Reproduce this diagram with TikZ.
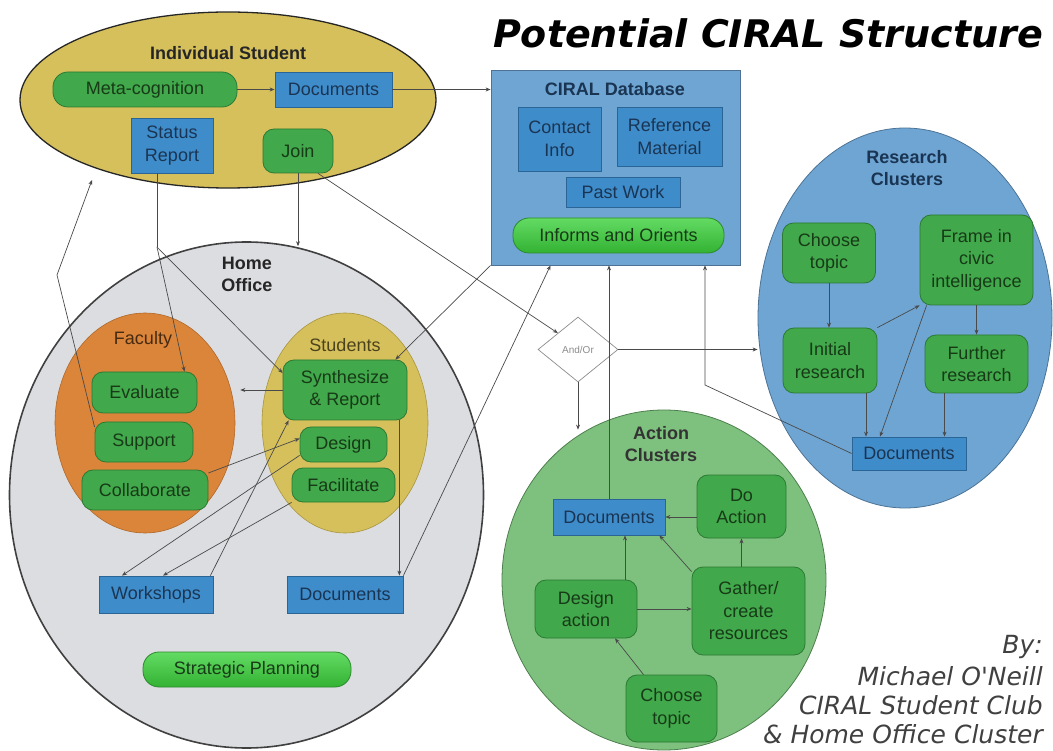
\documentclass[tikz,border=0pt]{standalone}
\usepackage{fontspec}
\setmainfont{Liberation Sans}
\newfontfamily\titlefont{DejaVu Sans}[ItalicFont={DejaVu Sans Oblique},BoldItalicFont={DejaVu Sans Bold Oblique},BoldFont={DejaVu Sans Bold}]
\usetikzlibrary{shapes.geometric,arrows.meta,calc}
\definecolor{gfill}{HTML}{41A84B}
\definecolor{gborder}{HTML}{2C7A34}
\definecolor{gtext}{HTML}{173A17}
\definecolor{bfill}{HTML}{3F8CCA}
\definecolor{bborder}{HTML}{2A6596}
\definecolor{btext}{HTML}{1A3553}
\definecolor{ptop}{HTML}{63DB63}
\definecolor{pbot}{HTML}{33B233}
\definecolor{pborder}{HTML}{2C8A2C}
\definecolor{gold}{HTML}{D6C05C}
\definecolor{goldline}{HTML}{A8953E}
\definecolor{homegray}{HTML}{DCDDE1}
\definecolor{orange}{HTML}{DA853A}
\definecolor{orangeline}{HTML}{B0682A}
\definecolor{lblue}{HTML}{6FA5D2}
\definecolor{lblueline}{HTML}{4C7396}
\definecolor{agreen}{HTML}{7EC07E}
\definecolor{agreenline}{HTML}{4E7F4E}
\definecolor{linec}{HTML}{4A4A4A}
\tikzset{
 txtbase/.style={font=\fontsize{18}{22.5}\selectfont, align=center, inner sep=0pt},
 gbox/.style={txtbase, draw=gborder, fill=gfill, text=gtext, rounded corners=11pt, line width=0.8pt},
 bbox/.style={txtbase, draw=bborder, fill=bfill, text=btext, line width=0.8pt},
 pill/.style={txtbase, draw=pborder, top color=ptop, bottom color=pbot, text=gtext, rounded corners=16pt, line width=0.8pt},
 region/.style={ellipse, inner sep=0pt},
 lbl/.style={txtbase, font=\bfseries\fontsize{18}{22}\selectfont},
 conn/.style={draw=linec, line width=0.7pt, -{Stealth[length=5pt,width=4pt]}},
 plainline/.style={draw=linec, line width=0.7pt},
 bytext/.style={anchor=east, inner sep=0pt, text=black!75, font=\titlefont\itshape\fontsize{25}{29}\selectfont},
}
\begin{document}
\begin{tikzpicture}[x=1pt,y=-1pt]
\fill[white] (0,0) rectangle (1053,751);
\useasboundingbox (0,0) rectangle (1053,751);

% title
\node[anchor=east, inner sep=0pt, font=\titlefont\bfseries\itshape\fontsize{38}{40}\selectfont] (title) at (1043,33) {Potential CIRAL Structure};

% big regions
\node[region, draw=black!85, line width=1.3pt, fill=gold, minimum width=416pt, minimum height=176pt] (indiv) at (228,100) {};
\node[region, draw=black!75, line width=1.6pt, fill=homegray, minimum width=474pt, minimum height=506pt] (home) at (246.5,495) {};
\node[draw=lblueline, line width=0.8pt, fill=lblue, minimum width=249pt, minimum height=195pt, inner sep=0pt] (db) at (615.5,167.5) {};
\node[region, draw=lblueline, line width=0.8pt, fill=lblue, minimum width=294pt, minimum height=380pt] (research) at (905,318) {};
\node[region, draw=agreenline, line width=0.8pt, fill=agreen, minimum width=324pt, minimum height=340pt] (action) at (664,580) {};
\node[region, draw=orangeline, line width=0.6pt, fill=orange, minimum width=180pt, minimum height=220pt] (fac) at (145,423) {};
\node[region, draw=goldline, line width=0.6pt, fill=gold, minimum width=166pt, minimum height=220pt] (stud) at (345,423) {};

% Individual student
\node[lbl, text=black!85] (indivlbl) at (228,53) {Individual Student};
\node[gbox, rounded corners=15pt, minimum width=184pt, minimum height=35pt] (meta) at (145,89.5) {Meta-cognition};
\node[bbox, minimum width=117pt, minimum height=35pt] (docA) at (333.5,89.5) {Documents};
\node[bbox, minimum width=82pt, minimum height=55pt] (status) at (172,145.5) {Status\\Report};
\node[gbox, minimum width=70pt, minimum height=44pt] (join) at (298,151) {Join};

% CIRAL database
\node[lbl, text=btext] (dblbl) at (615,89) {CIRAL Database};
\node[bbox, minimum width=83pt, minimum height=64pt] (contact) at (559.5,139) {Contact\\Info};
\node[bbox, minimum width=105pt, minimum height=59pt] (refmat) at (669.5,136.5) {Reference\\Material};
\node[bbox, minimum width=114pt, minimum height=30pt] (past) at (623,192) {Past Work};
\node[pill, minimum width=211pt, minimum height=35pt] (informs) at (618.5,235.5) {Informs and Orients};

% Home office
\node[lbl, text=black!85] (homelbl) at (247,274) {Home\\Office};
\node[txtbase, text=orangeline!40!black] (faclbl) at (143,340) {Faculty};
\node[txtbase, text=goldline!45!black] (studlbl) at (345,345) {Students};
\node[gbox, minimum width=105pt, minimum height=41pt] (eval) at (144.5,392.5) {Evaluate};
\node[gbox, minimum width=98pt, minimum height=40pt] (support) at (144,442) {Support};
\node[gbox, minimum width=126pt, minimum height=40pt] (collab) at (145,490) {Collaborate};
\node[gbox, minimum width=124pt, minimum height=60pt] (synth) at (345,390) {Synthesize\\\& Report};
\node[gbox, minimum width=87pt, minimum height=35pt] (design) at (343.5,444.5) {Design};
\node[gbox, minimum width=103pt, minimum height=34pt] (facil) at (343.5,485) {Facilitate};
\node[bbox, minimum width=114pt, minimum height=37pt] (workshops) at (156,594.5) {Workshops};
\node[bbox, minimum width=116pt, minimum height=37pt] (homedocs) at (345,594.5) {Documents};
\node[pill, minimum width=208pt, minimum height=35pt] (strat) at (247,669.5) {Strategic Planning};

% Research clusters
\node[lbl, text=btext] (reslbl) at (907,168.5) {Research\\Clusters};
\node[gbox, minimum width=93pt, minimum height=60pt] (choose1) at (829,253) {Choose\\topic};
\node[gbox, minimum width=113pt, minimum height=90pt] (frame) at (976.5,260) {Frame in\\civic\\intelligence};
\node[gbox, minimum width=94pt, minimum height=65pt] (init) at (830,360.5) {Initial\\research};
\node[gbox, minimum width=103pt, minimum height=58pt] (further) at (976.5,364) {Further\\research};
\node[bbox, minimum width=114pt, minimum height=33pt] (resdocs) at (909,453.5) {Documents};

% Action clusters
\node[lbl, text=black!80] (actlbl) at (661,444) {Action\\Clusters};
\node[bbox, minimum width=112pt, minimum height=36pt] (actdocs) at (609,517) {Documents};
\node[gbox, minimum width=89pt, minimum height=63pt] (doact) at (741.5,506.5) {Do\\Action};
\node[gbox, minimum width=113pt, minimum height=88pt] (gather) at (748.5,611) {Gather/\\create\\resources};
\node[gbox, minimum width=102pt, minimum height=58pt] (desact) at (586,609) {Design\\action};
\node[gbox, minimum width=91pt, minimum height=67pt] (choose2) at (671.5,708.5) {Choose\\topic};

% And/Or
\node[diamond, draw=black!45, line width=0.7pt, fill=white, minimum width=80pt, minimum height=65pt, inner sep=0pt, text=black!45, font=\fontsize{10}{12}\selectfont] (andor) at (578,349.5) {And/Or};

% credits
\node[bytext] (by1) at (1043,647) {By:};
\node[bytext] (by2) at (1043,676) {Michael O'Neill};
\node[bytext] (by3) at (1043,705) {CIRAL Student Club};
\node[bytext] (by4) at (1043,734) {\& Home Office Cluster};

% connectors
\draw[conn] (meta.east) -- (docA.west);
\draw[conn] (docA.east) -- (docA.east -| db.west);
\coordinate (sb) at (157,247);
\draw[plainline] ([xshift=-15pt]status.south) -- (sb);
\draw[conn] (sb) -- ([xshift=40pt]eval.north);
\draw[conn] (sb) -- ([yshift=17pt]synth.west);
\draw[conn] (join.south) -- ($(join.south |- home.north)+(0,5)$);
\draw[conn] ([xshift=20pt]join.south) -- (andor.north west);
\draw[conn] (andor.east) -- (andor.east -| research.west);
\draw[conn] (andor.south) -- ($(andor.south |- action.north)+(0,20)$);
\draw[conn] (actdocs.north) -- (actdocs.north |- db.south);
\coordinate (rb) at (705,385);
\draw[conn] (resdocs.west) -- (rb) -- (rb |- db.south);
\draw[conn] (db.south west) -- ([xshift=-12pt]synth.north east);
\draw[conn] (homedocs.north east) -- ([xshift=-65pt]db.south);
\draw[conn] ([xshift=-8pt]synth.south east) -- ([xshift=-8pt]synth.south east |- homedocs.north);
\draw[conn] (synth.west) -- ($(synth.west -| fac.east)+(5,0)$);
\draw[conn] ([yshift=17pt]collab.east) -- ([yshift=6pt]design.west);
\draw[conn] ([yshift=7pt]design.south west) -- ([xshift=-34pt]workshops.north);
\draw[conn] (facil.south west) -- ([xshift=7pt]workshops.north);
\draw[conn] ([xshift=-3pt]workshops.north east) -- ([xshift=6pt]synth.south west);
\coordinate (sp) at (57,275);
\coordinate (spend) at (92,180);
\draw[conn] ([yshift=15pt]support.west) -- (sp) -- (spend);

\draw[conn] (choose1.south) -- (choose1.south |- init.north);
\draw[conn] (init.north east) -- (frame.south west);
\draw[conn] (frame.south) -- (frame.south |- further.north);
\draw[conn] ([xshift=36pt]init.south) -- ([xshift=36pt]init.south |- resdocs.north);
\draw[conn] ([xshift=7pt]frame.south west) -- ([xshift=-29pt]resdocs.north);
\draw[conn] ([xshift=-32pt]further.south) -- ([xshift=-32pt]further.south |- resdocs.north);

\draw[conn] (doact.west |- actdocs.east) -- (actdocs.east);
\draw[conn] (doact.south |- gather.north) -- (doact.south);
\draw[conn] ([yshift=-5pt]gather.north west) -- ([xshift=-6pt]actdocs.south east);
\draw[conn] ([xshift=39pt]desact.north) -- ([xshift=39pt]desact.north |- actdocs.south);
\draw[conn] (desact.east) -- (desact.east -| gather.west);
\draw[conn] ([xshift=-28pt]choose2.north) -- ([xshift=29pt]desact.south);
\end{tikzpicture}
\end{document}
